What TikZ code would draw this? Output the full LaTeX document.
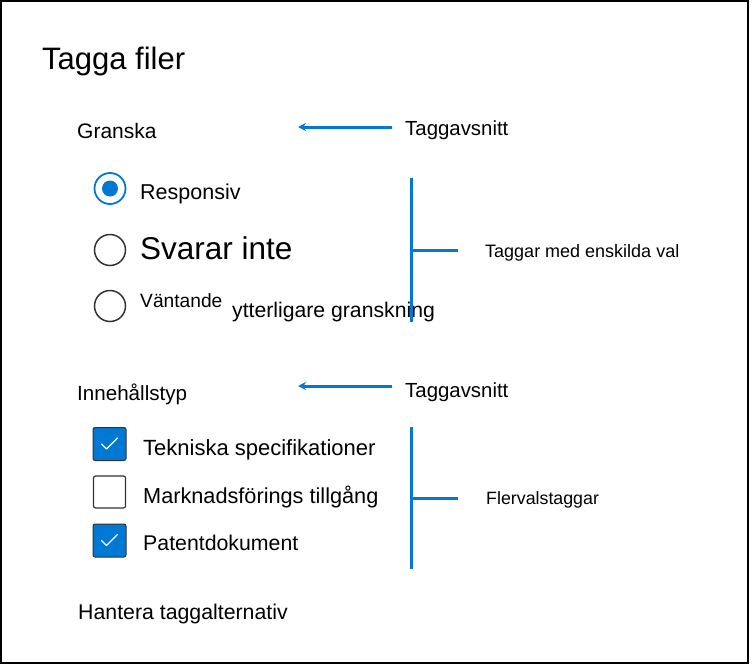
\documentclass[tikz,border=0pt]{standalone}
\usepackage{fontspec}
\setmainfont{Liberation Sans}
\usetikzlibrary{arrows.meta}
\definecolor{msblue}{HTML}{0078D4}
\definecolor{ringgray}{HTML}{333333}
\begin{document}
\begin{tikzpicture}[x=1pt,y=-1pt,
  lbl/.style={anchor=base west,inner sep=0pt,text=black},
  fs/.style={font=\fontsize{#1}{#1}\selectfont},
  pointer/.style={draw=msblue,line width=3pt,-{Stealth[length=8pt,width=8pt]}},
  brace/.style={draw=msblue,line width=3pt},
  radioon/.style={circle,draw=msblue,line width=1.8pt,minimum size=31pt,inner sep=0pt},
  radiooff/.style={circle,draw=ringgray,line width=1.5pt,minimum size=31pt,inner sep=0pt},
  dot/.style={circle,fill=msblue,minimum size=16pt,inner sep=0pt},
  boxon/.style={draw=ringgray,fill=msblue,line width=1pt,rounded corners=2pt,minimum size=33pt,inner sep=0pt},
  boxoff/.style={draw=ringgray,fill=white,line width=1.2pt,rounded corners=2pt,minimum size=32pt,inner sep=0pt},
  tick/.style={draw=white,line width=1.2pt,line cap=round,line join=round}]
\useasboundingbox (0,0) rectangle (752,664);
\draw[line width=2pt,black] (1,1) rectangle (748,663);

\node[lbl,fs=31] (title) at (42,69) {Tagga filer};

% section 1
\node[lbl,fs=21] (sec1) at (77,138) {Granska};
\node[lbl,fs=20.4] (ts1) at (405,135) {Taggavsnitt};
\coordinate (a1s) at (392,127);
\coordinate (a1e) at (298,127);
\draw[pointer] (a1s) -- (a1e);

\node[radioon] (r1) at (110,188.5) {};
\node[dot] (r1d) at (r1.center) {};
\node[lbl,fs=21.5] (t1) at (140,199) {Responsiv};
\node[radiooff] (r2) at (110,250) {};
\node[lbl,fs=31.5] (t2) at (140,259) {Svarar inte};
\node[radiooff] (r3) at (110,306) {};
\node[lbl,fs=19.2] (t3) at (140,307) {Väntande};
\node[lbl,fs=21.2] (t3b) at (232,317) {ytterligare granskning};

\coordinate (b1top) at (411,178);
\coordinate (b1bot) at (411,322);
\coordinate (b1mid) at (411,250);
\coordinate (b1end) at (458,250);
\draw[brace] (b1top) -- (b1bot);
\draw[brace] (b1mid) -- (b1end);
\node[lbl,fs=18] (single) at (485,257) {Taggar med enskilda val};

% section 2
\node[lbl,fs=20.6] (sec2) at (77,400) {Innehållstyp};
\node[lbl,fs=20.4] (ts2) at (405,397) {Taggavsnitt};
\coordinate (a2s) at (392,386);
\coordinate (a2e) at (298,386);
\draw[pointer] (a2s) -- (a2e);

\node[boxon] (c1) at (109.5,444) {};
\draw[tick] ([shift={(-8,0)}]c1.center) -- ([shift={(-3,5)}]c1.center) -- ([shift={(8,-6)}]c1.center);
\node[lbl,fs=22] (k1) at (143,455) {Tekniska specifikationer};
\node[boxoff] (c2) at (109.5,492) {};
\node[lbl,fs=21.7] (k2) at (143,503) {Marknadsförings tillgång};
\node[boxon] (c3) at (109.5,540.5) {};
\draw[tick] ([shift={(-8,0)}]c3.center) -- ([shift={(-3,5)}]c3.center) -- ([shift={(8,-6)}]c3.center);
\node[lbl,fs=21.3] (k3) at (143,550) {Patentdokument};

\coordinate (b2top) at (411,427);
\coordinate (b2bot) at (411,569);
\coordinate (b2mid) at (411,498);
\coordinate (b2end) at (458,498);
\draw[brace] (b2top) -- (b2bot);
\draw[brace] (b2mid) -- (b2end);
\node[lbl,fs=17.8] (multi) at (486,504) {Flervalstaggar};

\node[lbl,fs=21.3] (manage) at (78,619) {Hantera taggalternativ};
\end{tikzpicture}
\end{document}
